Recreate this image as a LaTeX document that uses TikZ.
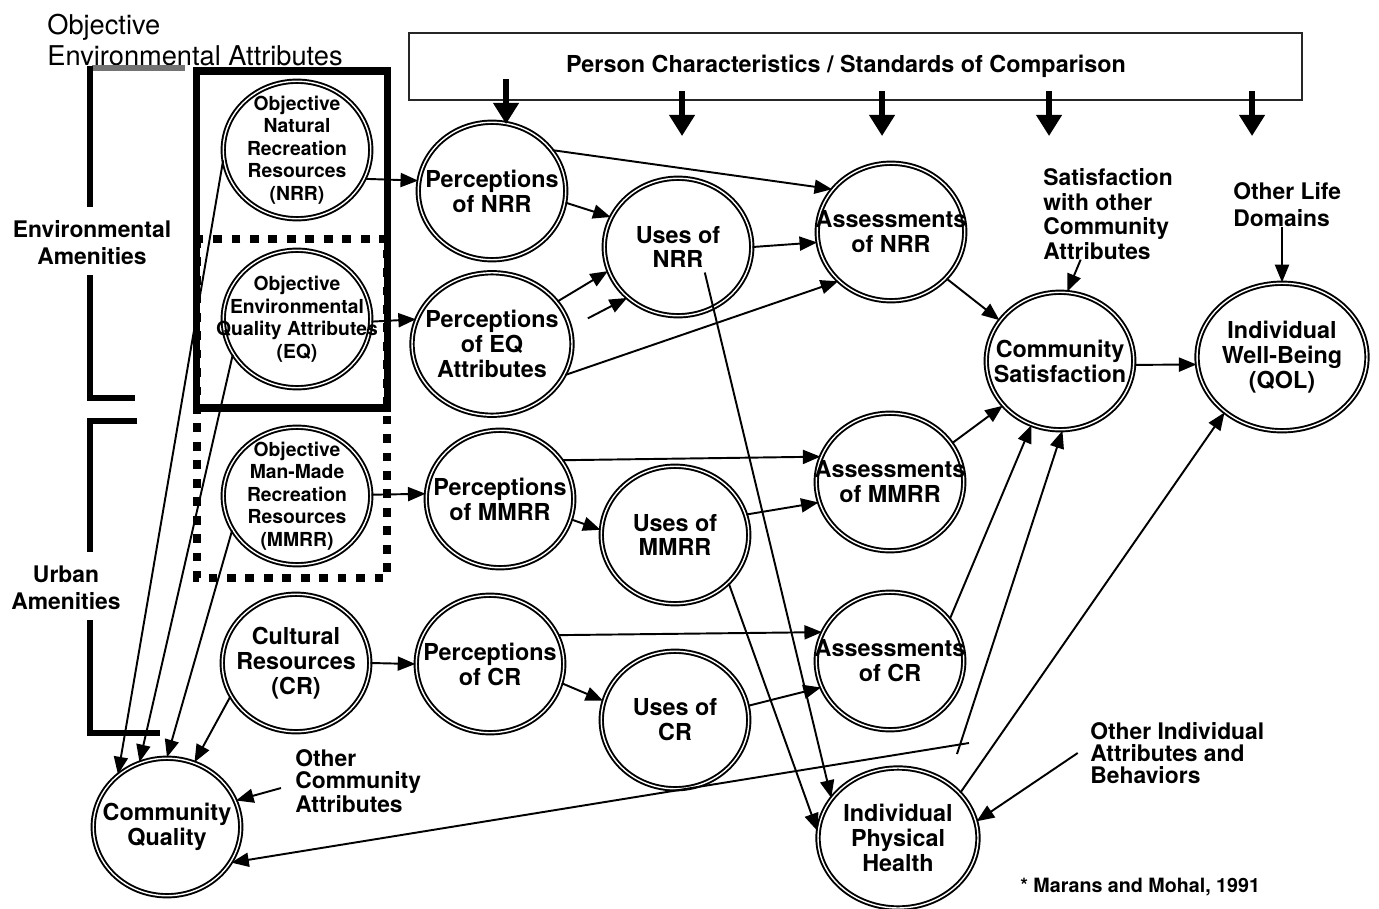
\documentclass[tikz,border=0pt]{standalone}
\usepackage{fontspec}
\setmainfont{TeX Gyre Heros}
\usetikzlibrary{arrows.meta,shapes.geometric,calc}

\tikzset{
	bub/.style={ellipse, draw, double, double distance=0.8pt, line width=1.1pt, inner sep=0pt, minimum width=2.95cm, minimum height=2.75cm},
	bubtxt/.style={align=center, inner sep=0pt, font=\bfseries\fontsize{13.3}{14.2}\selectfont},
	objtxt/.style={align=center, inner sep=0pt, font=\bfseries\fontsize{11}{12.8}\selectfont},
	lbl/.style={align=left, inner sep=0pt, font=\bfseries\fontsize{13}{12.5}\selectfont},
	arr/.style={-{Triangle[length=10pt,width=8pt]}, line width=1.1pt},
	bigarr/.style={-{Triangle[length=12pt,width=14pt]}, line width=3pt},
	brk/.style={line width=3.5pt}
}

\begin{document}
\begin{tikzpicture}[x=0.02cm,y=-0.02cm]
	\useasboundingbox (0,0) rectangle (1379,909);

	\node[align=left, anchor=west, inner sep=0pt, font=\fontsize{15.5}{17.6}\selectfont] (oea) at (47,40) {Objective\\Environmental Attributes};

	\draw[brk, black!55] (92,68) -- (185,68);
	\draw[brk] (90,66) -- (90,207);
	\draw[brk] (90,275) -- (90,398) -- (135,398);
	\draw[brk] (137,421) -- (90,421) -- (90,552);
	\draw[brk] (90,620) -- (90,733) -- (160,733);
	\node[lbl, align=center, font=\bfseries\fontsize{13}{15.3}\selectfont] (envam) at (92,243) {Environmental\\Amenities};
	\node[lbl, align=center, font=\bfseries\fontsize{13}{15.3}\selectfont] (urbam) at (66,588) {Urban\\Amenities};

	\draw[line width=4.5pt, dash pattern=on 5pt off 5.5pt] (197,239) rectangle (387,578);
	\draw[line width=4.2pt] (196.5,71) rectangle (387.5,408);

	\node[draw=black!85, line width=1.2pt, inner sep=0pt, minimum width=17.86cm, minimum height=1.34cm] (pcbox) at (855.5,66.5) {};
	\node[font=\bfseries\fontsize{13.3}{15}\selectfont, inner sep=0pt] (pcsc) at (846,66) {Person Characteristics / Standards of Comparison};

	\node[bub, label={[objtxt]center:{Objective\\Natural\\Recreation\\Resources\\(NRR)}}] (onrr) at (297,150) {};
	\node[bub, label={[objtxt]center:{Objective\\Environmental\\Quality Attributes\\(EQ)}}] (oeq) at (297,319) {};
	\node[bub, label={[objtxt]center:{Objective\\Man-Made\\Recreation\\Resources\\(MMRR)}}] (ommrr) at (297,496) {};
	\node[bub, label={[bubtxt]center:{Cultural\\Resources\\(CR)}}] (ocr) at (296,663) {};
	\node[bub, label={[bubtxt]center:{Community\\Quality}}] (cq) at (167,827) {};

	\node[bub, label={[bubtxt]center:{Perceptions\\of NRR}}] (pnrr) at (492,191) {};
	\node[bub, minimum width=3.2cm, minimum height=2.85cm, label={[bubtxt]center:{Perceptions\\of EQ\\Attributes}}] (peq) at (492,344) {};
	\node[bub, label={[bubtxt]center:{Perceptions\\of MMRR}}] (pmmrr) at (500,499) {};
	\node[bub, label={[bubtxt]center:{Perceptions\\of CR}}] (pcr) at (490,664) {};

	\node[bub, label={[bubtxt]center:{Uses of\\NRR}}] (unrr) at (678,247) {};
	\node[bub, label={[bubtxt]center:{Uses of\\MMRR}}] (ummrr) at (675,535) {};
	\node[bub, label={[bubtxt]center:{Uses of\\CR}}] (ucr) at (675,720) {};

	\node[bub, label={[bubtxt]center:{Assessments\\of NRR}}] (anrr) at (891,232) {};
	\node[bub, label={[bubtxt]center:{Assessments\\of MMRR}}] (ammrr) at (890,482) {};
	\node[bub, label={[bubtxt]center:{Assessments\\of CR}}] (acr) at (890,661) {};

	\node[bub, minimum width=3.2cm, minimum height=2.8cm, label={[bubtxt]center:{Individual\\Physical\\Health}}] (iph) at (898,838) {};
	\node[bub, label={[bubtxt]center:{Community\\Satisfaction}}] (csat) at (1060,361) {};
	\node[bub, minimum width=3.4cm, minimum height=2.95cm, label={[bubtxt]center:{Individual\\Well-Being\\(QOL)}}] (qol) at (1282,357) {};

	\node[lbl, anchor=west, font=\bfseries\fontsize{13}{13.9}\selectfont] (swoca) at (1043,214) {Satisfaction\\with other\\Community\\Attributes};
	\node[lbl, anchor=west, font=\bfseries\fontsize{13}{15.3}\selectfont] (old) at (1233,205) {Other Life\\Domains};
	\node[lbl, anchor=west] (oiab) at (1090,753) {Other Individual\\Attributes and\\Behaviors};
	\node[lbl, anchor=west] (oca) at (295,781) {Other\\Community\\Attributes};
	\node[anchor=base west, inner sep=0pt, font=\bfseries\fontsize{11.2}{13}\selectfont] (cite) at (1020,892) {* Marans and Mohal, 1991};

	\draw[bigarr] ($(pcbox.south west)+(98,-22)$) -- ++(0,45);
	\foreach \dx in {274,474,641,844}{
		\draw[bigarr] ($(pcbox.south west)+(\dx,-10)$) -- ++(0,45);
		}

	\draw[arr] (onrr.-23) -- (pnrr.172);
	\draw[arr] (oeq.-2) -- (peq.162);
	\draw[arr] (ommrr.1) -- (pmmrr.176);
	\draw[arr] (ocr.0) -- (pcr.180);

	\draw[arr] (pnrr.34) -- (anrr.144);
	\draw[arr] (pnrr.-9) -- (unrr.156);
	\draw[arr] (peq.33) -- (unrr.199);
	\draw[arr, shorten <=11pt] (peq.12) -- (unrr.225);
	\draw[arr] (peq.-23) -- (anrr.223);
	\draw[arr] (unrr.0) -- (anrr.188);
	\draw[arr, shorten <=-21pt] (unrr.-60) -- (iph.149);

	\draw[arr] (pmmrr.32) -- (ammrr.160);
	\draw[arr] (pmmrr.-16) -- (ummrr.176);
	\draw[arr] (ummrr.16) -- (ammrr.196);
	\draw[arr] (ummrr.-42) -- (iph.175);

	\draw[arr] (pcr.23) -- (acr.157);
	\draw[arr] (pcr.-15) -- (ucr.165);
	\draw[arr] (ucr.11) -- (acr.201);

	\draw[arr] (anrr.-40) -- (csat.146);
	\draw[arr] (ammrr.32) -- (csat.218);
	\draw[arr] (acr.35) -- (csat.246);
	\coordinate (fbs) at (957,754);
	\coordinate (fbq) at (969,743);
	\draw[arr] (fbs) -- (csat.272);
	\draw[arr] (fbq) -- (cq.-29);

	\draw[arr] (iph.36) -- (qol.224);
	\draw[arr] (csat.-3) -- (qol.185);
	\draw[arr] (swoca.-121) -- (csat.84);
	\draw[arr] (old.south -| qol.north) -- (qol.north);
	\draw[arr] ([xshift=-7pt]oiab.west) -- (iph.12);
	\draw[arr] ([xshift=-8pt,yshift=-4pt]oca.west) -- (cq.21);

	\draw[arr] (onrr.188) -- (cq.133);
	\draw[arr] (oeq.209) -- (cq.113);
	\draw[arr] (ommrr.208) -- (cq.90);
	\draw[arr] (ocr.207) -- (cq.67);
\end{tikzpicture}
\end{document}
